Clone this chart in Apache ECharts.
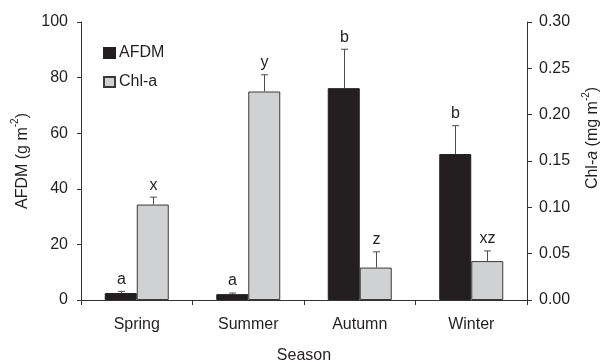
<!DOCTYPE html>
<html><head><meta charset="utf-8">
<script src="https://cdn.jsdelivr.net/npm/echarts@6/dist/echarts.min.js"></script>
<style>html,body{margin:0;padding:0;background:#fff}#c{width:607px;height:363px}</style>
</head><body><div id="c"></div>
<script>
const seasons = ['Spring', 'Summer', 'Autumn', 'Winter'];
const afdm = [2.5, 2.1, 76.2, 52.5];
const afdmErr = [0.6, 0.4, 14.0, 10.2];
const afdmLetters = ['a', 'a', 'b', 'b'];
const chl = [0.103, 0.225, 0.035, 0.042];
const chlErr = [0.008, 0.018, 0.017, 0.011];
const chlLetters = ['x', 'y', 'z', 'xz'];
const leftTicks = [0, 20, 40, 60, 80, 100];

const FONT = 'Liberation Sans, Arial, sans-serif';
const TXT = '#231f20';
const BARW = 32;
const FS = 16;

function errSeries(name, vals, errs, letters, axisIdx, offset) {
  return {
    type: 'custom', name: name + ' err', yAxisIndex: axisIdx, z: 5,
    data: vals.map((v, i) => [i, v, v + errs[i], letters[i]]),
    renderItem: function (params, api) {
      const i = api.value(0);
      const top = api.coord([i, api.value(2)]);
      const base = api.coord([i, api.value(1)]);
      const x = Math.round(top[0] + offset) + 0.5;
      return {
        type: 'group', children: [
          { type: 'line', shape: { x1: x, y1: base[1], x2: x, y2: top[1] }, style: { stroke: '#4d4d4d', lineWidth: 1 } },
          { type: 'line', shape: { x1: x - 3.5, y1: top[1], x2: x + 3.5, y2: top[1] }, style: { stroke: '#4d4d4d', lineWidth: 1 } },
          { type: 'text', x: x, y: top[1] - 4, style: { text: letters[i], fill: TXT, font: FS + 'px ' + FONT, textAlign: 'center', textVerticalAlign: 'bottom' } }
        ]
      };
    }
  };
}

const richBase = { fontSize: FS, color: TXT, fontFamily: FONT, lineHeight: 20, verticalAlign: 'bottom' };
const richSup = { fontSize: 10, color: TXT, fontFamily: FONT, lineHeight: 20, verticalAlign: 'top' };

const chart = echarts.init(document.getElementById('c'), null, { renderer: 'canvas' });
chart.setOption({
  animation: false,
  backgroundColor: '#fff',
  textStyle: { fontFamily: FONT, color: TXT },
  grid: { left: 81, right: 80, top: 22, bottom: 63, outerBoundsMode: 'none', containLabel: false },
  legend: {
    orient: 'vertical', left: 103, top: 45, padding: 0, itemWidth: 11, itemHeight: 10, itemGap: 13,
    icon: 'rect',
    textStyle: { fontSize: FS, color: TXT, fontFamily: FONT, padding: [0, 0, 0, -1] },
    data: ['AFDM', 'Chl-a']
  },
  xAxis: {
    type: 'category', data: seasons,
    name: 'Season', nameLocation: 'middle', nameGap: 48,
    nameTextStyle: { fontSize: FS, color: TXT, fontFamily: FONT },
    axisLine: { lineStyle: { color: '#333', width: 1 } },
    axisTick: { show: true, length: 5, lineStyle: { color: '#333' } },
    axisLabel: { fontSize: FS, color: TXT, margin: 17, fontFamily: FONT }
  },
  yAxis: [{
    type: 'value', min: 0, max: 100, interval: 20, position: 'left',
    name: '{n|AFDM (g m}{s|-2}{n|)}', nameLocation: 'middle', nameGap: 46, nameRotate: 90,
    nameTextStyle: { rich: { n: richBase, s: richSup } },
    axisLine: { show: true, lineStyle: { color: '#333' } },
    axisTick: { show: true, length: 4, lineStyle: { color: '#333' } },
    splitLine: { show: false },
    axisLabel: { fontSize: FS, color: TXT, margin: 13, fontFamily: FONT, formatter: v => leftTicks.includes(v) ? String(v) : '' }
  }, {
    type: 'value', min: 0, max: 0.3, interval: 0.05, position: 'right',
    name: '{n|Chl-}{i|a}{n| (mg m}{s|-2}{n|)}', nameLocation: 'middle', nameGap: 51, nameRotate: 90,
    nameTextStyle: { padding: [0, 0, 0, 46], rich: { n: richBase, i: Object.assign({}, richBase, { fontStyle: 'italic' }), s: richSup } },
    axisLine: { show: true, lineStyle: { color: '#333' } },
    axisTick: { show: true, length: 5, lineStyle: { color: '#333' } },
    splitLine: { show: false },
    axisLabel: { fontSize: FS, color: TXT, margin: 12, fontFamily: FONT, formatter: v => v.toFixed(2) }
  }],
  series: [
    { name: 'AFDM', type: 'bar', yAxisIndex: 0, data: afdm, barWidth: BARW, barGap: '0%',
      itemStyle: { color: '#231f20', borderColor: '#231f20', borderWidth: 1 } },
    { name: 'Chl-a', type: 'bar', yAxisIndex: 1, data: chl, barWidth: BARW, barGap: '0%',
      itemStyle: { color: '#d0d1d3', borderColor: '#3a3a3a', borderWidth: 1 } },
    errSeries('AFDM', afdm, afdmErr, afdmLetters, 0, -BARW / 2),
    errSeries('Chl-a', chl, chlErr, chlLetters, 1, BARW / 2)
  ]
});
</script></body></html>
